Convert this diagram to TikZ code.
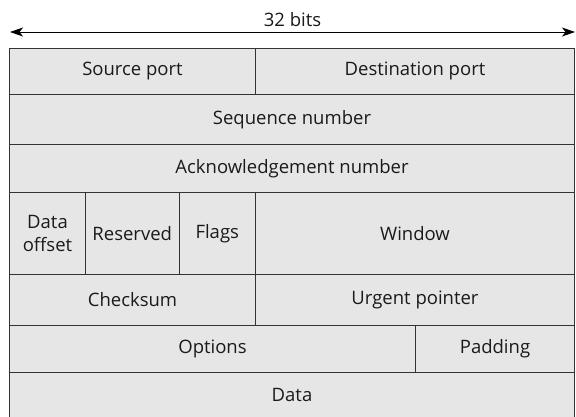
\documentclass[tikz,border=0pt]{standalone}
\usepackage{fontspec}
\setmainfont{Open Sans}
\usetikzlibrary{arrows.meta}
\definecolor{cellfill}{HTML}{E6E6E6}
\definecolor{cellline}{HTML}{333333}
\definecolor{txt}{HTML}{1A1A1A}
\begin{document}
\begin{tikzpicture}[x=1pt,y=-1pt,
  lbl/.style={text=txt, font=\fontsize{18.5}{22}\selectfont},
  cell/.style={lbl, draw=cellline, line width=1pt, fill=cellfill, inner sep=0pt, outer sep=0pt, align=center},
  dim/.style={draw=black, line width=0.9pt, {Stealth[length=13pt,width=9pt,inset=3.5pt]}-{Stealth[length=13pt,width=9pt,inset=3.5pt]}}]
\useasboundingbox (0,0) rectangle (576,416);
% row 1
\node[cell, minimum width=246pt, minimum height=46.5pt] (src) at (132.5,71.25) {Source port};
\node[cell, minimum width=319pt, minimum height=46.5pt] (dst) at (415,71.25) {Destination port};
% row 2, 3
\node[cell, minimum width=565pt, minimum height=49.5pt] (seq) at (292,119.25) {Sequence number};
\node[cell, minimum width=565pt, minimum height=48.5pt] (ack) at (292,168.25) {Acknowledgement number};
% row 4
\node[cell, minimum width=76pt, minimum height=81.5pt] (doff) at (47.5,233.25) {Data\\[1pt]offset};
\node[cell, minimum width=93.5pt, minimum height=81.5pt] (res) at (132.25,233.25) {Reserved};
\node[cell, minimum width=76.5pt, minimum height=81.5pt] (flags) at (217.25,233.25) {Flags};
\node[cell, minimum width=319pt, minimum height=81.5pt] (win) at (415,233.25) {Window};
% row 5
\node[cell, minimum width=246pt, minimum height=51.5pt] (chk) at (132.5,299.75) {Checksum};
\node[cell, minimum width=319pt, minimum height=51.5pt] (urg) at (415,299.75) {Urgent pointer};
% row 6
\node[cell, minimum width=406pt, minimum height=46.5pt] (opt) at (212.5,348.75) {Options};
\node[cell, minimum width=159pt, minimum height=46.5pt] (pad) at (495,348.75) {Padding};
% row 7
\node[cell, minimum width=565pt, minimum height=45pt] (data) at (292,394.5) {Data};
% width arrow
\coordinate (al) at (10,32);
\coordinate (ar) at (575,32);
\draw[dim] (al) -- node[lbl, above=2pt] (bits) {32 bits} (ar);
\end{tikzpicture}
\end{document}
